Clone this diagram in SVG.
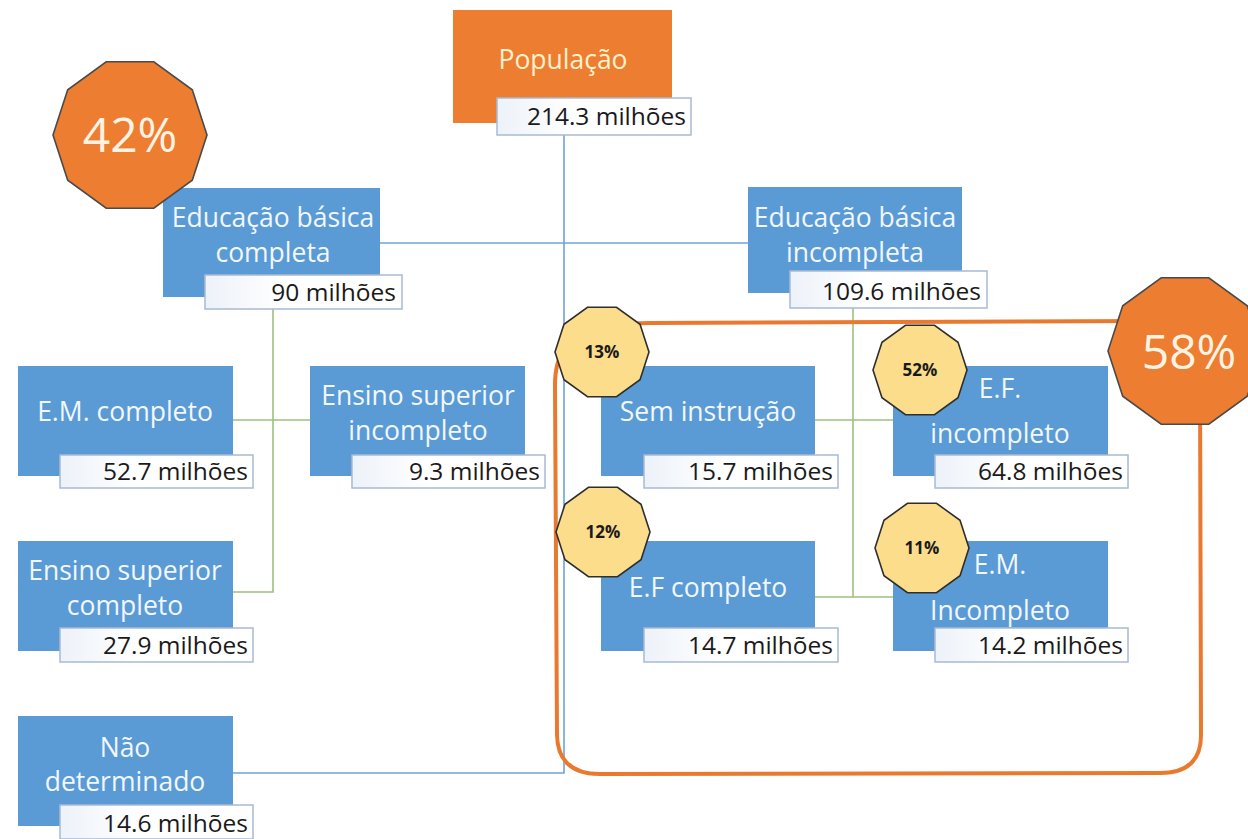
<svg xmlns="http://www.w3.org/2000/svg" width="1248" height="839" viewBox="0 0 1248 839">
<defs>
<linearGradient id="lbl" x1="0" y1="0" x2="1" y2="0">
<stop offset="0" stop-color="#EDF2F9"/>
<stop offset="0.4" stop-color="#FFFFFF"/>
<stop offset="1" stop-color="#FFFFFF"/>
</linearGradient>
<polygon id="dec-s" points="47,0 38.02,27.64 14.52,44.7 -14.52,44.7 -38.02,27.64 -47,0 -38.02,-27.64 -14.52,-44.7 14.52,-44.7 38.02,-27.64"/>
<polygon id="dec-l" points="77,0 62.29,45.26 23.79,73.23 -23.79,73.23 -62.29,45.26 -77,0 -62.29,-45.26 -23.79,-73.23 23.79,-73.23 62.29,-45.26"/>
</defs>
<style>
.box{fill:#5B9BD5}
.pop{fill:#ED7D31}
.lbl{fill:url(#lbl);stroke:#A9BAD3;stroke-width:1.5}
.t{font-family:"Open Sans","Noto Sans",sans-serif;font-size:26.5px;fill:#F2F7FC;text-anchor:middle}
.v{font-family:"Open Sans","Noto Sans",sans-serif;font-size:24.5px;fill:#1A1A1A;text-anchor:end}
.blue{stroke:#6FA3D6;stroke-width:1.6;fill:none}
.green{stroke:#9DC07E;stroke-width:1.6;fill:none}
.ring{stroke:#E8792F;stroke-width:4;fill:none;stroke-linecap:round;stroke-linejoin:round}
.ydec{fill:#FBDD8C;stroke:#2E2E2E;stroke-width:1.6}
.odec{fill:#ED7D31;stroke:#4A4A4A;stroke-width:1.6}
.p{font-family:"Open Sans","Noto Sans",sans-serif;font-size:17px;font-weight:bold;fill:#1A1A1A;text-anchor:middle}
.bp{font-family:"Open Sans","Noto Sans",sans-serif;font-size:48px;fill:#FFF4E4;text-anchor:middle}
</style>
<rect width="1248" height="839" fill="#FFFFFF"/>

<g id="connectors">
<path class="blue" d="M564,135 V773 H233"/>
<path class="blue" d="M380,243 H748"/>
<path class="green" d="M273,308 V592 H233 M233,420 H310"/>
<path class="green" d="M853,308 V597 M815,420 H893 M815,597 H893"/>
</g>

<g id="ring-58">
<path class="ring" d="M600,330 Q615,323 650,323 L1150,321 Q1200,321 1200,370 L1201,735 Q1201,773 1160,773 L600,774 Q558,774 557,735 L555,385 Q555,335 600,330"/>
</g>

<g id="populacao">
<rect class="pop" x="453" y="10" width="219" height="113"/>
<text class="t" x="563" y="69" style="fill:#FFF2CC">População</text>
<rect class="lbl" x="497" y="98" width="194" height="37"/>
<text class="v" x="686" y="125">214.3 milhões</text>
</g>

<g id="edu-completa">
<rect class="box" x="163" y="188" width="217" height="109"/>
<text class="t" x="273" y="227">Educação básica</text>
<text class="t" x="273" y="262">completa</text>
<rect class="lbl" x="205" y="275" width="197" height="34"/>
<text class="v" x="396" y="301">90 milhões</text>
</g>

<g id="edu-incompleta">
<rect class="box" x="748" y="187" width="214" height="106"/>
<text class="t" x="855" y="227">Educação básica</text>
<text class="t" x="855" y="262">incompleta</text>
<rect class="lbl" x="790" y="271" width="197" height="37"/>
<text class="v" x="981" y="300">109.6 milhões</text>
</g>

<g id="em-completo">
<rect class="box" x="18" y="366" width="215" height="110"/>
<text class="t" x="125" y="421">E.M. completo</text>
<rect class="lbl" x="60" y="455" width="193" height="33"/>
<text class="v" x="248" y="480">52.7 milhões</text>
</g>

<g id="es-incompleto">
<rect class="box" x="310" y="366" width="215" height="110"/>
<text class="t" x="418" y="405">Ensino superior</text>
<text class="t" x="418" y="440">incompleto</text>
<rect class="lbl" x="352" y="455" width="193" height="33"/>
<text class="v" x="540" y="480">9.3 milhões</text>
</g>

<g id="es-completo">
<rect class="box" x="18" y="541" width="215" height="110"/>
<text class="t" x="125" y="580">Ensino superior</text>
<text class="t" x="125" y="615">completo</text>
<rect class="lbl" x="60" y="628" width="193" height="34"/>
<text class="v" x="248" y="654">27.9 milhões</text>
</g>

<g id="nao-determinado">
<rect class="box" x="18" y="716" width="215" height="110"/>
<text class="t" x="125" y="757">Não</text>
<text class="t" x="125" y="791">determinado</text>
<rect class="lbl" x="60" y="805" width="193" height="34"/>
<text class="v" x="248" y="832">14.6 milhões</text>
</g>

<g id="sem-instrucao">
<rect class="box" x="601" y="366" width="214" height="110"/>
<text class="t" x="708" y="421">Sem instrução</text>
<rect class="lbl" x="644" y="455" width="194" height="33"/>
<text class="v" x="833" y="480">15.7 milhões</text>
</g>

<g id="ef-incompleto">
<rect class="box" x="893" y="366" width="215" height="110"/>
<text class="t" x="1000" y="398">E.F.</text>
<text class="t" x="1000" y="443">incompleto</text>
<rect class="lbl" x="935" y="455" width="193" height="33"/>
<text class="v" x="1123" y="480">64.8 milhões</text>
</g>

<g id="ef-completo">
<rect class="box" x="601" y="541" width="214" height="110"/>
<text class="t" x="708" y="597">E.F completo</text>
<rect class="lbl" x="644" y="628" width="194" height="34"/>
<text class="v" x="833" y="654">14.7 milhões</text>
</g>

<g id="em-incompleto">
<rect class="box" x="893" y="541" width="215" height="110"/>
<text class="t" x="1000" y="574">E.M.</text>
<text class="t" x="1000" y="620">Incompleto</text>
<rect class="lbl" x="935" y="628" width="193" height="34"/>
<text class="v" x="1123" y="654">14.2 milhões</text>
</g>

<g id="pct-42">
<use href="#dec-l" class="odec" transform="translate(130,135)"/>
<text class="bp" x="130" y="152">42%</text>
</g>
<g id="pct-58">
<use href="#dec-l" class="odec" transform="translate(1185,351)"/>
<text class="bp" x="1189" y="369">58%</text>
</g>
<g id="pct-13">
<use href="#dec-s" class="ydec" transform="translate(602,352)"/>
<text class="p" x="602" y="358">13%</text>
</g>
<g id="pct-12">
<use href="#dec-s" class="ydec" transform="translate(603,532)"/>
<text class="p" x="603" y="538">12%</text>
</g>
<g id="pct-52">
<use href="#dec-s" class="ydec" transform="translate(920,370)"/>
<text class="p" x="920" y="376">52%</text>
</g>
<g id="pct-11">
<use href="#dec-s" class="ydec" transform="translate(922,548)"/>
<text class="p" x="922" y="554">11%</text>
</g>
</svg>
